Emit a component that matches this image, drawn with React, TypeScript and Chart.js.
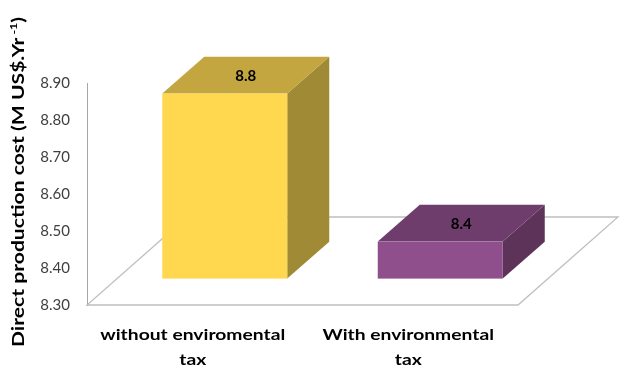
import React, { useEffect, useRef } from "react";
import { Chart, registerables } from "chart.js";

Chart.register(...registerables);

// Chart data
const categories: string[][] = [
  ["without enviromental", "tax"],
  ["With environmental", "tax"],
];
const costValues: number[] = [8.8, 8.4];
const valueLabels: string[] = costValues.map((v) => v.toFixed(1));
const yTicks: number[] = [8.3, 8.4, 8.5, 8.6, 8.7, 8.8, 8.9];
const yTitle = "Direct production cost (M US$.Yr";
const yTitleSup = " -1";

const frontColors = ["#FFD84F", "#8F4F8D"];
const topColors = ["#C3A640", "#6E3D6C"];
const sideColors = ["#A08A35", "#5E335A"];

// Oblique depth of the floor and of each box (pixels)
const DEPTH_X = 100;
const DEPTH_Y = -88;
const BOX_FRONT = 0.3;
const BOX_BACK = 0.72;

const threeD = {
  id: "threeD",
  beforeDatasetsDraw(chart: any) {
    const { ctx, chartArea } = chart;
    const { left, right, bottom } = chartArea;
    ctx.save();
    ctx.beginPath();
    ctx.moveTo(left, bottom);
    ctx.lineTo(right, bottom);
    ctx.lineTo(right + DEPTH_X, bottom + DEPTH_Y);
    ctx.lineTo(left + DEPTH_X, bottom + DEPTH_Y);
    ctx.closePath();
    ctx.fillStyle = "#ffffff";
    ctx.fill();
    ctx.strokeStyle = "#bfbfbf";
    ctx.lineWidth = 1.3;
    ctx.stroke();
    ctx.restore();
  },
  afterDatasetsDraw(chart: any) {
    const { ctx } = chart;
    const meta = chart.getDatasetMeta(0);
    const yScale = chart.scales.y;
    const basePx = yScale.getPixelForValue(yTicks[0]);
    const fx = DEPTH_X * BOX_FRONT;
    const fy = DEPTH_Y * BOX_FRONT;
    const bx = DEPTH_X * BOX_BACK;
    const by = DEPTH_Y * BOX_BACK;
    ctx.save();
    meta.data.forEach((bar: any, i: number) => {
      const { x, width } = bar.getProps(["x", "width"], true);
      const y = yScale.getPixelForValue(costValues[i]);
      const l = x - width / 2 + fx;
      const r = x + width / 2 + fx;
      const t = y + fy;
      const b = basePx + fy;
      const dx = bx - fx;
      const dy = by - fy;
      // side face
      ctx.beginPath();
      ctx.moveTo(r, t);
      ctx.lineTo(r + dx, t + dy);
      ctx.lineTo(r + dx, b + dy);
      ctx.lineTo(r, b);
      ctx.closePath();
      ctx.fillStyle = sideColors[i];
      ctx.fill();
      // top face
      ctx.beginPath();
      ctx.moveTo(l, t);
      ctx.lineTo(l + dx, t + dy);
      ctx.lineTo(r + dx, t + dy);
      ctx.lineTo(r, t);
      ctx.closePath();
      ctx.fillStyle = topColors[i];
      ctx.fill();
      // front face
      ctx.fillStyle = frontColors[i];
      ctx.fillRect(l, t, r - l, b - t);
      // value label on the top face
      ctx.fillStyle = "#000000";
      ctx.font = "bold 15px Lato";
      ctx.textAlign = "center";
      ctx.textBaseline = "middle";
      ctx.fillText(valueLabels[i], (l + r) / 2 + dx / 2, t + dy / 2 + 1);
    });
    ctx.restore();
  },
};

const textLabels = {
  id: "textLabels",
  afterDraw(chart: any) {
    const { ctx } = chart;
    const xScale = chart.scales.x;

    // category labels, stretched slightly along the line
    ctx.save();
    ctx.fillStyle = "#000000";
    ctx.font = "bold 16px Lato";
    ctx.textAlign = "center";
    ctx.textBaseline = "middle";
    const stretchX = 185 / ctx.measureText(categories[0][0]).width;
    categories.forEach((lines, i) => {
      const cx = xScale.getPixelForTick(i) - 2;
      lines.forEach((line, j) => {
        ctx.save();
        ctx.translate(cx, 335 + j * 25);
        ctx.scale(stretchX, 1);
        ctx.fillText(line, 0, 0);
        ctx.restore();
      });
    });
    ctx.restore();

    // rotated value-axis title with superscript
    ctx.save();
    ctx.translate(19, 182);
    ctx.rotate(-Math.PI / 2);
    ctx.fillStyle = "#000000";
    ctx.textBaseline = "middle";
    ctx.font = "bold 17px Lato";
    const wMain = ctx.measureText(yTitle).width;
    const wClose = ctx.measureText(")").width;
    ctx.font = "bold 10px Lato";
    const wSup = ctx.measureText(yTitleSup).width;
    const total = wMain + wSup + wClose;
    const stretch = 330 / total;
    ctx.scale(stretch, 1);
    let xPos = -total / 2;
    ctx.textAlign = "left";
    ctx.font = "bold 17px Lato";
    ctx.fillText(yTitle, xPos, 0);
    xPos += wMain;
    ctx.font = "bold 10px Lato";
    ctx.fillText(yTitleSup, xPos, -5);
    xPos += wSup;
    ctx.font = "bold 17px Lato";
    ctx.fillText(")", xPos, 0);
    ctx.restore();
  },
};

export default function App() {
  const canvasRef = useRef<HTMLCanvasElement | null>(null);

  useEffect(() => {
    if (!canvasRef.current) return;
    const chart = new Chart(canvasRef.current, {
      type: "bar",
      data: {
        labels: categories,
        datasets: [
          {
            data: costValues,
            backgroundColor: "rgba(0,0,0,0)",
            borderWidth: 0,
            barPercentage: 0.58,
            categoryPercentage: 1,
          },
        ],
      },
      options: {
        animation: false,
        responsive: false,
        maintainAspectRatio: false,
        layout: { padding: { top: 83, right: 102, left: 0, bottom: 0 } },
        plugins: {
          legend: { display: false },
          tooltip: { enabled: false },
        },
        scales: {
          x: {
            grid: { display: false, drawTicks: false },
            border: { display: false },
            ticks: { display: false },
            afterFit(scale: any) {
              scale.height = 64;
            },
          },
          y: {
            min: 8.3,
            max: 8.9,
            afterBuildTicks(scale: any) {
              scale.ticks = yTicks.map((v) => ({ value: v }));
            },
            grid: { display: false, drawTicks: false },
            border: { display: true, color: "#a6a6a6", width: 1 },
            ticks: {
              color: "#404040",
              font: { family: "Lato", size: 15 },
              padding: 17,
              callback: (v: any) => Number(v).toFixed(2),
            },
            afterFit(scale: any) {
              scale.width = 87;
            },
          },
        },
      },
      plugins: [threeD, textLabels],
    });
    return () => chart.destroy();
  }, []);

  return (
    <div style={{ position: "fixed", left: 0, top: 0, width: 620, height: 369, background: "#ffffff" }}>
      <canvas ref={canvasRef} width={620} height={369} style={{ display: "block" }} />
    </div>
  );
}
